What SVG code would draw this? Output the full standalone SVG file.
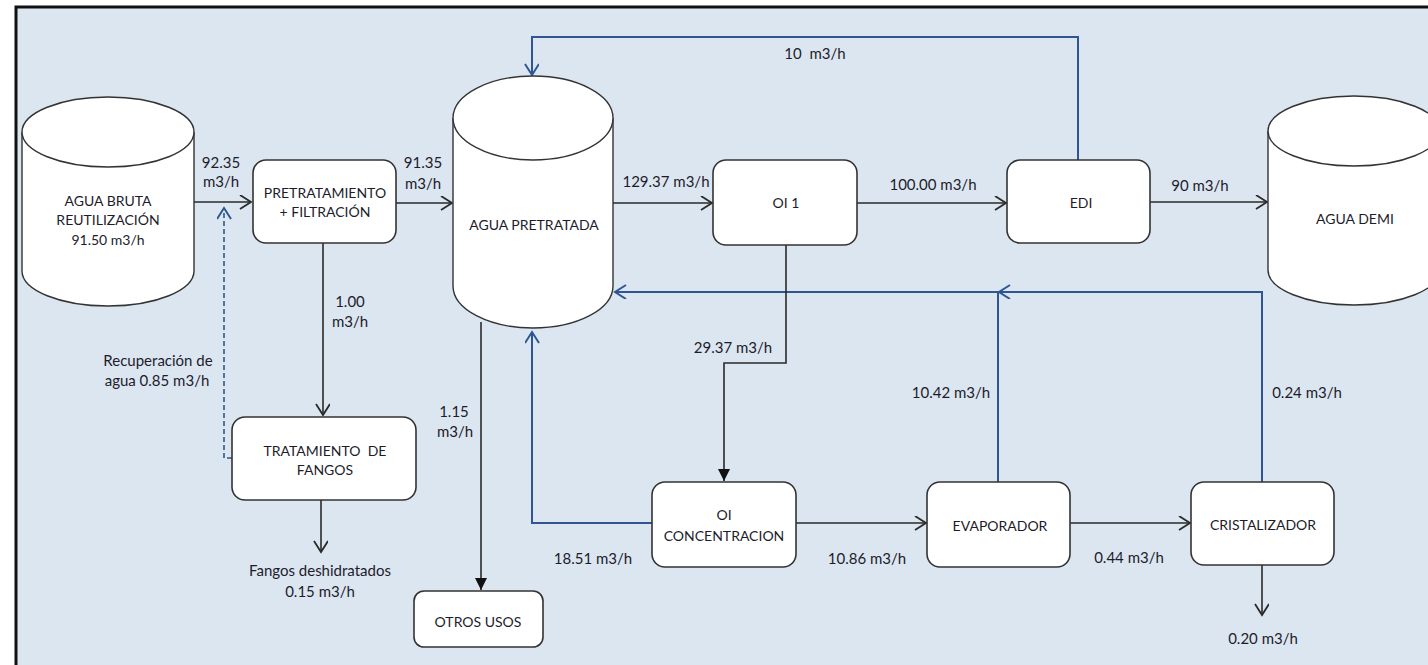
<svg xmlns="http://www.w3.org/2000/svg" width="1428" height="665" viewBox="0 0 1428 665">
  <style>
    .frame { fill: #dce6f0; stroke: #111; stroke-width: 3; }
    .box { fill: #fff; stroke: #333; stroke-width: 1.6; }
    .tank { fill: #fff; stroke: #333; stroke-width: 1.4; }
    .node-text { font-family: Lato, "Liberation Sans", sans-serif; font-size: 14px; fill: #1c1c2c; text-anchor: middle; }
    .lbl { font-family: Lato, "Liberation Sans", sans-serif; font-size: 15px; fill: #1c1c2c; text-anchor: middle; }
    .flow { fill: none; stroke: #2a2a2a; stroke-width: 1.6; }
    .ret { fill: none; stroke: #2f5592; stroke-width: 2; }
    .dash { fill: none; stroke: #2f5592; stroke-width: 1.6; stroke-dasharray: 5 3; }
  </style>
  <defs>
    <marker id="open" markerUnits="userSpaceOnUse" markerWidth="16" markerHeight="16" refX="12" refY="7" orient="auto">
      <path d="M1,0 L12,7 L1,14" fill="none" stroke="#2a2a2a" stroke-width="1.8"/>
    </marker>
    <marker id="openBlue" markerUnits="userSpaceOnUse" markerWidth="16" markerHeight="16" refX="12" refY="7" orient="auto">
      <path d="M1,0 L12,7 L1,14" fill="none" stroke="#2f5592" stroke-width="2"/>
    </marker>
    <marker id="solid" markerUnits="userSpaceOnUse" markerWidth="14" markerHeight="14" refX="12" refY="6" orient="auto">
      <path d="M0,0 L12,6 L0,12 z" fill="#111"/>
    </marker>
  </defs>

  <!-- background panel -->
  <rect class="frame" x="16" y="7" width="1420" height="670"/>

  <!-- connectors -->
  <g id="connectors">
    <path class="flow" d="M194,202 H251" marker-end="url(#open)"/>
    <path class="flow" d="M396,203 H452" marker-end="url(#open)"/>
    <path class="flow" d="M613,203 H712" marker-end="url(#open)"/>
    <path class="flow" d="M857,203 H1006" marker-end="url(#open)"/>
    <path class="flow" d="M1150,202 H1267" marker-end="url(#open)"/>
    <path class="ret" d="M1078,160 V37 H532 V75" marker-end="url(#openBlue)"/>
    <path class="ret" d="M998,482 V292 H615" marker-end="url(#openBlue)"/>
    <path class="ret" d="M1262,482 V292 H999" marker-end="url(#openBlue)"/>
    <path class="ret" d="M652,523 H532 V332" marker-end="url(#openBlue)"/>
    <path class="flow" d="M786,245 V363 H724 V481" marker-end="url(#solid)"/>
    <path class="flow" d="M796,523 H926" marker-end="url(#open)"/>
    <path class="flow" d="M1070,523 H1190" marker-end="url(#open)"/>
    <path class="flow" d="M1262,565 V615" marker-end="url(#open)"/>
    <path class="flow" d="M323,243 V415" marker-end="url(#open)"/>
    <path class="dash" d="M232,458 H224 V208" marker-end="url(#openBlue)"/>
    <path class="flow" d="M321,500 V552" marker-end="url(#open)"/>
    <path class="flow" d="M481,322 V590" marker-end="url(#solid)"/>

    <text class="lbl" x="221" y="168">92.35</text>
    <text class="lbl" x="221" y="187">m3/h</text>
    <text class="lbl" x="423" y="168">91.35</text>
    <text class="lbl" x="423" y="189">m3/h</text>
    <text class="lbl" x="666" y="187">129.37 m3/h</text>
    <text class="lbl" x="933" y="190">100.00 m3/h</text>
    <text class="lbl" x="1200" y="191">90 m3/h</text>
    <text class="lbl" x="815" y="59" xml:space="preserve">10  m3/h</text>
    <text class="lbl" x="733" y="353">29.37 m3/h</text>
    <text class="lbl" x="593" y="564">18.51 m3/h</text>
    <text class="lbl" x="867" y="564">10.86 m3/h</text>
    <text class="lbl" x="1129" y="563">0.44 m3/h</text>
    <text class="lbl" x="1263" y="644">0.20 m3/h</text>
    <text class="lbl" x="951" y="398">10.42 m3/h</text>
    <text class="lbl" x="1307" y="398">0.24 m3/h</text>
    <text class="lbl" x="350" y="307">1.00</text>
    <text class="lbl" x="350" y="327">m3/h</text>
    <text class="lbl" x="454" y="417">1.15</text>
    <text class="lbl" x="455" y="437">m3/h</text>
    <text class="lbl" x="158" y="366">Recuperación de</text>
    <text class="lbl" x="157" y="386">agua 0.85 m3/h</text>
    <text class="lbl" x="320" y="576">Fangos deshidratados</text>
    <text class="lbl" x="320" y="597">0.15 m3/h</text>
  </g>

  <!-- raw water tank -->
  <g id="agua-bruta">
    <path class="tank" d="M22,132 V271 A86,35 0 0 0 194,271 V132"/>
    <ellipse class="tank" cx="108" cy="132" rx="86" ry="35"/>
    <text class="node-text" x="108" y="206">AGUA BRUTA</text>
    <text class="node-text" x="108" y="225">REUTILIZACIÓN</text>
    <text class="node-text" x="108" y="245">91.50 m3/h</text>
  </g>

  <g id="pretratamiento">
    <rect class="box" x="253" y="160" width="143" height="83" rx="13"/>
    <text class="node-text" x="325" y="198">PRETRATAMIENTO</text>
    <text class="node-text" x="325" y="217">+ FILTRACIÓN</text>
  </g>

  <!-- pretreated water tank -->
  <g id="agua-pretratada">
    <path class="tank" d="M453,118 V286 A80,42 0 0 0 613,286 V118"/>
    <ellipse class="tank" cx="533" cy="118" rx="80" ry="42"/>
    <text class="node-text" x="534" y="230">AGUA PRETRATADA</text>
  </g>

  <g id="oi1">
    <rect class="box" x="713" y="160" width="144" height="85" rx="13"/>
    <text class="node-text" x="786" y="208">OI 1</text>
  </g>

  <g id="edi">
    <rect class="box" x="1007" y="160" width="143" height="83" rx="13"/>
    <text class="node-text" x="1081" y="208">EDI</text>
  </g>

  <!-- demineralised water tank -->
  <g id="agua-demi">
    <path class="tank" d="M1268,131 V270 A86,35 0 0 0 1440,270 V131"/>
    <ellipse class="tank" cx="1354" cy="131" rx="86" ry="35"/>
    <text class="node-text" x="1355" y="224">AGUA DEMI</text>
  </g>

  <g id="tratamiento-fangos">
    <rect class="box" x="232" y="417" width="184" height="83" rx="13"/>
    <text class="node-text" x="325" y="456" xml:space="preserve">TRATAMIENTO  DE</text>
    <text class="node-text" x="325" y="475">FANGOS</text>
  </g>

  <g id="otros-usos">
    <rect class="box" x="414" y="591" width="129" height="56" rx="10"/>
    <text class="node-text" x="478" y="627">OTROS USOS</text>
  </g>

  <g id="oi-concentracion">
    <rect class="box" x="652" y="482" width="144" height="85" rx="13"/>
    <text class="node-text" x="724" y="520">OI</text>
    <text class="node-text" x="724" y="541">CONCENTRACION</text>
  </g>

  <g id="evaporador">
    <rect class="box" x="927" y="482" width="143" height="85" rx="13"/>
    <text class="node-text" x="1000" y="531">EVAPORADOR</text>
  </g>

  <g id="cristalizador">
    <rect class="box" x="1191" y="482" width="143" height="83" rx="13"/>
    <text class="node-text" x="1263" y="530">CRISTALIZADOR</text>
  </g>
</svg>
